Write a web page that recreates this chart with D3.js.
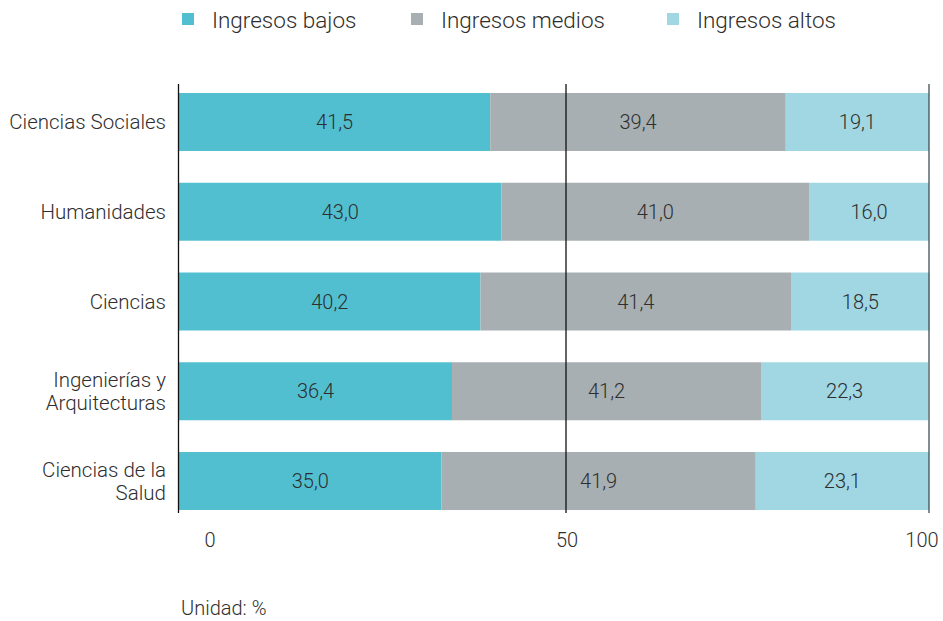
<!DOCTYPE html>
<html>
<head>
<meta charset="utf-8">
<script src="https://cdn.jsdelivr.net/npm/d3@7"></script>
<style>
  body { margin: 0; background: #fff; }
  text { font-family: Roboto, "Noto Sans", sans-serif; font-weight: 300; fill: #2e2e2e; }
</style>
</head>
<body>
<svg id="chart" width="943" height="621"></svg>
<script>
// data
const categories = ["Ciencias Sociales", "Humanidades", "Ciencias", "Ingenierías y\nArquitecturas", "Ciencias de la\nSalud"];
const seriesNames = ["Ingresos bajos", "Ingresos medios", "Ingresos altos"];
const bajos = [41.5, 43.0, 40.2, 36.4, 35.0];
const medios = [39.4, 41.0, 41.4, 41.2, 41.9];
const altos = [19.1, 16.0, 18.5, 22.3, 23.1];
const tickValues = [0, 50, 100];
const unitLabel = "Unidad: %";

const colors = ["#52bfd0", "#a7afb2", "#a0d7e2"];

const svg = d3.select("#chart");

// scales
const x = d3.scaleLinear().domain([0, 100]).range([179, 929]);
const y = d3.scaleBand().domain(categories).range([77.1, 525.9]).paddingInner(0.354).paddingOuter(0.177);
// grid lines/labels in the original are not placed on the bar scale
const xGrid = d3.scaleLinear().domain([0, 50, 100]).range([178.5, 566, 929]);
const xTickLabel = d3.scaleLinear().domain([0, 50, 100]).range([210, 567, 922]);

const rows = categories.map((c, i) => ({ cat: c, vals: [bajos[i], medios[i], altos[i]] }));

// bars
rows.forEach(r => {
  let acc = 0;
  r.vals.forEach((v, k) => {
    svg.append("rect")
      .attr("x", x(acc))
      .attr("y", y(r.cat))
      .attr("width", x(acc + v) - x(acc))
      .attr("height", y.bandwidth())
      .attr("fill", colors[k]);
    svg.append("text")
      .attr("x", (x(acc) + x(acc + v)) / 2)
      .attr("y", y(r.cat) + y.bandwidth() / 2 + 7)
      .attr("text-anchor", "middle")
      .style("font-size", "20px")
      .text(v.toFixed(1).replace(".", ","));
    acc += v;
  });
});

// vertical lines
svg.selectAll("line.grid")
  .data(tickValues)
  .enter().append("line")
  .attr("class", "grid")
  .attr("x1", d => xGrid(d)).attr("x2", d => xGrid(d))
  .attr("y1", 84).attr("y2", 513)
  .attr("stroke", d => d === 100 ? "#3d4f55" : "#111")
  .attr("stroke-width", 1.3);

// tick labels
svg.selectAll("text.tick")
  .data(tickValues)
  .enter().append("text")
  .attr("class", "tick")
  .attr("x", d => xTickLabel(d))
  .attr("y", 547)
  .attr("text-anchor", "middle")
  .style("font-size", "20px")
  .text(d => d);

// category labels
categories.forEach(c => {
  const lines = c.split("\n");
  const cy = y(c) + y.bandwidth() / 2;
  const t = svg.append("text")
    .attr("text-anchor", "end")
    .style("font-size", "20.5px");
  lines.forEach((l, i) => {
    t.append("tspan")
      .attr("x", 166)
      .attr("y", cy + 7 + (i - (lines.length - 1) / 2) * 23)
      .text(l);
  });
});

// legend
const legendX = [182, 411, 667];
seriesNames.forEach((s, k) => {
  svg.append("rect")
    .attr("x", legendX[k]).attr("y", 13)
    .attr("width", 12).attr("height", 12)
    .attr("fill", colors[k]);
  svg.append("text")
    .attr("x", legendX[k] + 30)
    .attr("y", 28)
    .style("font-size", "22.5px")
    .text(s);
});

// unit
svg.append("text")
  .attr("x", 181).attr("y", 615)
  .style("font-size", "20px")
  .text(unitLabel);
</script>
</body>
</html>
